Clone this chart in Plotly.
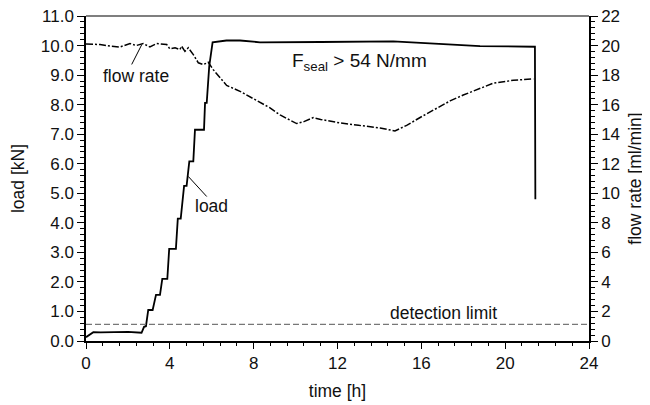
import plotly.graph_objects as go

# ---- data ----
load_t = [0, 0.35, 0.7, 1.5, 2.0, 2.65, 2.77, 2.86, 2.97, 3.18, 3.34, 3.53, 3.64, 3.88,
          3.97, 4.29, 4.38, 4.52, 4.68, 4.80, 4.93, 5.12, 5.20, 5.63, 5.68, 5.76, 5.88,
          6.04, 6.70, 7.35, 8.30, 11.2, 14.66, 18.8, 21.34, 21.42, 21.44]
load_kN = [0.13, 0.30, 0.29, 0.30, 0.31, 0.28, 0.48, 0.50, 1.05, 1.05, 1.56, 1.56, 2.10, 2.10,
           3.12, 3.12, 4.14, 4.14, 5.25, 5.25, 6.08, 6.08, 7.15, 7.15, 8.06, 8.06, 9.30,
           10.11, 10.17, 10.17, 10.11, 10.12, 10.14, 9.98, 9.96, 9.96, 4.8]

flow_t = [0, 0.67, 1.2, 1.6, 2.1, 2.4, 2.73, 3.05, 3.37, 3.85, 4.0, 4.25, 4.48, 4.56, 4.72,
          4.88, 5.12, 5.36, 5.6, 5.83, 6.07, 6.39, 6.71, 7.35, 8.0, 8.78, 9.26, 10.05, 10.4,
          10.84, 11.2, 12.12, 13.0, 14.03, 14.74, 15.3, 16.09, 17.37, 18.0, 18.64, 19.43,
          20.39, 21.34]
flow_mlmin = [20.10, 20.07, 19.95, 19.89, 20.14, 20.0, 20.14, 19.90, 20.14, 20.07, 19.78, 19.85,
              19.73, 19.96, 19.61, 19.85, 19.39, 18.83, 18.71, 18.87, 18.37, 17.80, 17.30, 16.90,
              16.40, 15.78, 15.30, 14.72, 14.85, 15.12, 15.00, 14.76, 14.60, 14.42, 14.22, 14.60,
              15.25, 16.25, 16.65, 17.0, 17.45, 17.65, 17.74]

detection_limit = 1.13  # ml/min

x_ticks = [0, 4, 8, 12, 16, 20, 24]
y_ticks = [0, 1, 2, 3, 4, 5, 6, 7, 8, 9, 10, 11]
y2_ticks = [0, 2, 4, 6, 8, 10, 12, 14, 16, 18, 20, 22]

FONT = "Liberation Sans, Arial, sans-serif"
fig = go.Figure()

fig.add_trace(go.Scatter(x=[0, 24], y=[detection_limit, detection_limit], yaxis="y2",
                         mode="lines", line=dict(color="#777777", width=1.3, dash="6px,3px"),
                         showlegend=False, hoverinfo="skip"))
fig.add_trace(go.Scatter(x=flow_t, y=flow_mlmin, yaxis="y2", mode="lines",
                         line=dict(color="black", width=1.5, dash="7px,2px,2px,2px"),
                         showlegend=False))
fig.add_trace(go.Scatter(x=load_t, y=load_kN, mode="lines",
                         line=dict(color="black", width=1.8), showlegend=False))

tickfont = dict(family=FONT, size=17, color="#111")
fig.update_layout(
    width=642, height=397,
    margin=dict(l=78, r=61, t=8, b=64),
    plot_bgcolor="white", paper_bgcolor="white",
    font=dict(family=FONT, size=17, color="#111"),
    xaxis=dict(range=[0, 24], tickvals=x_ticks, ticks="outside", ticklen=6, tickwidth=1.3,
               tickcolor="black", showline=True, linecolor="black", linewidth=1.5,
               showgrid=False, zeroline=False, tickfont=tickfont, automargin=False,
               ticklabeloverflow="allow",
               minor=dict(dtick=0.8, ticks="outside", ticklen=3, tickwidth=1.2, tickcolor="black"),
               title=dict(text="time [h]", font=dict(family=FONT, size=17.5), standoff=13)),
    yaxis=dict(range=[0, 11], tickvals=y_ticks, tickformat=".1f", ticks="outside", ticklen=7,
               tickwidth=1.3, tickcolor="black", showline=True, linecolor="black", linewidth=1.5,
               showgrid=False, zeroline=False, tickfont=tickfont, automargin=False,
               ticklabeloverflow="allow",
               minor=dict(dtick=0.2, ticks="outside", ticklen=4, tickwidth=1.2, tickcolor="black"),
               title=dict(text="load [kN]", font=dict(family=FONT, size=17.5), standoff=14)),
    yaxis2=dict(range=[0, 22], tickvals=y2_ticks, overlaying="y", side="right", ticks="outside",
                ticklen=7, tickwidth=1.3, tickcolor="black", showline=True, linecolor="black",
                linewidth=1.5, showgrid=False, zeroline=False, tickfont=tickfont, automargin=False,
                ticklabeloverflow="allow",
                minor=dict(dtick=0.4, ticks="outside", ticklen=4, tickwidth=1.2, tickcolor="black"),
                title=dict(text="flow rate [ml/min]", font=dict(family=FONT, size=17.5), standoff=10)),
)

fig.add_shape(type="line", xref="paper", yref="paper", x0=0, x1=1, y0=1, y1=1,
              line=dict(color="#555555", width=1.5))

ann_font = dict(family=FONT, size=17.5, color="#111")
fig.add_annotation(x=2.39, y=8.98, text="flow rate", showarrow=False, font=ann_font)
fig.add_shape(type="line", x0=2.18, y0=9.36, x1=2.66, y1=10.03,
              line=dict(color="black", width=1))
fig.add_annotation(x=6.0, y=4.58, text="load", showarrow=False, font=ann_font)
fig.add_shape(type="line", x0=4.88, y0=5.57, x1=5.76, y1=4.89,
              line=dict(color="black", width=1))
fig.add_annotation(x=13.07, y=9.45, text="F<sub>seal</sub> &gt; 54 N/mm", showarrow=False,
                   font=dict(family=FONT, size=19, color="#111"))
fig.add_annotation(x=17.06, y=0.95, text="detection limit", showarrow=False, font=ann_font)

fig.write_html("out.html")
